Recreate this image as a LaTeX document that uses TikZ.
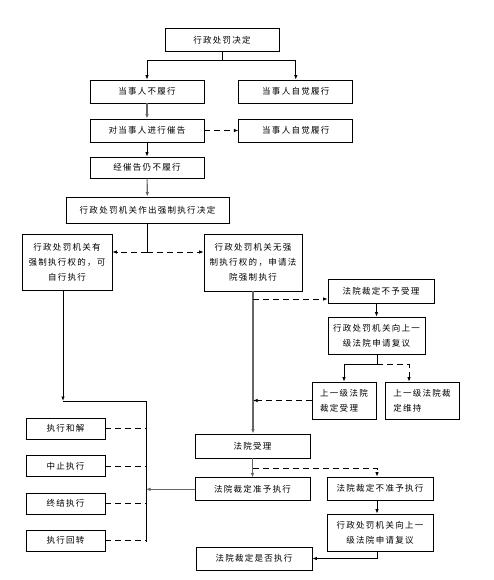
\documentclass[tikz,border=0pt]{standalone}
\usepackage{fontspec}
\newfontfamily\cjk[LetterSpace=15]{Noto Sans CJK SC}
\usetikzlibrary{arrows.meta, positioning, calc}

\begin{document}
\begin{tikzpicture}[
    x=1pt, y=-1pt,
    box/.style={draw, line width=0.8pt, align=center, inner sep=1pt, font={\cjk\fontsize{8.5}{15}\selectfont}, minimum width=114pt, minimum height=23pt},
    ln/.style={line width=0.8pt},
    arr/.style={-{Latex[length=4.5pt,width=3.5pt]}, line width=0.8pt},
    garr/.style={arr, draw=black!60, line width=1.1pt},
    darr/.style={arr, dash pattern=on 6pt off 4pt},
    dline/.style={ln, dash pattern=on 6pt off 4pt}
]
\useasboundingbox (0,0) rectangle (493,580);

% top part
\node[box] (decision) at (222,40) {行政处罚决定};
\node[box] (refuse) at (147,91.5) {当事人不履行};
\node[box, right=34pt of refuse] (comply) {当事人自觉履行};
\node[box] (urge) at (147,130.5) {对当事人进行催告};
\node[box, right=34pt of urge] (comply2) {当事人自觉履行};
\node[box, minimum height=21pt] (still) at (147,167.5) {经催告仍不履行};
\node[box, minimum width=163pt, minimum height=26pt] (enforce) at (147.5,210) {行政处罚机关作出强制执行决定};

% two ways of enforcement
\node[box, minimum width=90pt, minimum height=56pt] (selfexec) at (67,262) {行政处罚机关有\\强制执行权的，可\\自行执行};
\node[box, minimum width=98pt, minimum height=57pt] (apply) at (253,262.5) {行政处罚机关无强\\制执行权的，申请法\\院强制执行};

% court side
\node[box, minimum width=106pt, minimum height=24pt] (reject) at (381,291) {法院裁定不予受理};
\node[box, minimum width=97pt, minimum height=37pt] (review) at (376.5,335.5) {行政处罚机关向上一\\级法院申请复议};
\node[box, minimum width=64pt, minimum height=37pt, align=left] (upaccept) at (344,400.5) {上一级法院\\裁定受理};
\node[box, minimum width=74pt, minimum height=37pt, align=left] (upkeep) at (422,400.5) {上一级法院裁\\定维持};
\node[box, minimum width=115pt, minimum height=24pt] (accept) at (252.5,446) {法院受理};
\node[box, minimum width=115pt, below=19pt of accept] (permit) {法院裁定准予执行};
\node[box, minimum width=106pt] (deny) at (380,488.5) {法院裁定不准予执行};
\node[box, minimum width=106pt, minimum height=37pt] (review2) at (380,532.5) {行政处罚机关向上一\\级法院申请复议};
\node[box, minimum width=116pt] (whether) at (254,558.5) {法院裁定是否执行};

% left column
\foreach \y/\name/\txt in {428.5/settle/执行和解, 466/suspend/中止执行, 503.5/terminate/终结执行, 540.5/reverse/执行回转}
    \node[box, minimum width=79pt, minimum height=21pt] (\name) at (65.5,\y) {\txt};

\coordinate (split1) at (222,60);
\coordinate (split2) at (147,252);
\coordinate (landing) at (63,401);
\coordinate (busT) at (146,401);
\coordinate (busB) at (146,542);
\coordinate (split3) at (253,299);
\coordinate (split4) at (377,364);
\coordinate (split5) at (253,468);

\draw[ln] (decision) -- (split1);
\draw[arr] (split1) -| (refuse);
\draw[arr] (split1) -| (comply);
\draw[garr] (refuse) -- (urge);
\draw[darr] (urge) -- (comply2);
\draw[arr] (urge) -- (still);
\draw[garr] (still) -- (enforce);
\draw[ln] (enforce.south -| split2) -- (split2);
\draw[darr] (split2) -- (split2 -| selfexec.east);
\draw[darr] (split2) -- (split2 -| apply.west);

\draw[arr] (selfexec.south -| landing) -- (landing);
\draw[ln] (landing) -- (busT) -- (busB);
\foreach \name in {settle, suspend, terminate, reverse}
    \draw[dline] (\name) -- (\name -| busT);
\draw[garr] (permit) -- (permit -| busT);

\draw[garr] (apply.south) -- (apply.south |- accept.north);
\draw[darr] (split3) -- (split3 -| reject.west);
\draw[arr] (review.north |- reject.south) -- (review);
\draw[ln] (review.south -| split4) -- (split4);
\draw[arr] (split4) -| (upaccept);
\draw[darr] (split4) -| ([xshift=-13pt]upkeep.north);
\draw[darr] (upaccept) -- (upaccept -| split3);

\draw[garr] (accept) -- (permit);
\draw[darr] (split5) -| ([xshift=-3pt]deny.north);
\draw[arr] ([xshift=-3pt]deny.south) -- ([xshift=-3pt]review2.north);
\draw[arr] ([xshift=-3pt]review2.south) |- (whether);
\end{tikzpicture}
\end{document}
